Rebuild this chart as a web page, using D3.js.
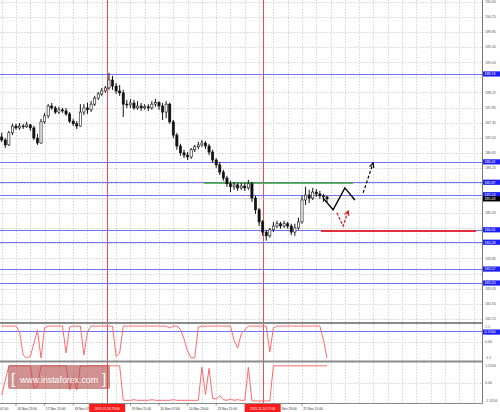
<!DOCTYPE html>
<html><head><meta charset="utf-8">
<script src="https://cdn.jsdelivr.net/npm/d3@7"></script>
<style>
html,body{margin:0;padding:0;background:#fff;}
svg{display:block;}
text{font-family:"Liberation Sans",Arial,sans-serif;}
</style></head><body>
<svg id="c" width="500" height="412"></svg>
<script>
// ---- data (2-hour bars) ----
const opens = [187.07,186.99,186.86,187.18,187.36,187.31,187.36,187.34,187.39,187.31,
187.04,186.91,187.47,187.63,187.89,187.84,187.73,187.79,187.76,187.68,
187.49,187.42,187.36,187.73,187.84,187.79,187.94,188.10,188.21,188.29,
188.37,188.58,188.42,188.29,188.24,187.94,187.92,187.97,187.84,187.89,
187.84,187.87,187.84,187.94,187.98,187.89,187.73,187.94,187.47,187.12,
186.83,186.65,186.59,186.54,186.73,186.81,186.86,186.91,186.83,186.67,
186.46,186.33,186.14,185.98,185.83,185.75,185.80,185.72,185.77,185.72,
185.83,185.45,185.14,184.82,184.55,184.45,184.61,184.71,184.77,184.71,
184.77,184.71,184.55,184.66,184.82,185.40,185.53,185.45,185.61,185.56,
185.51,185.48];
const highs = [187.18,187.04,187.23,187.42,187.42,187.44,187.42,187.47,187.42,187.36,
187.15,187.55,187.71,187.94,187.97,187.89,187.87,187.84,187.84,187.73,
187.55,187.49,187.94,187.94,187.98,188.02,188.16,188.26,188.37,188.42,
188.77,188.69,188.50,188.45,188.32,188.05,188.08,188.05,188.02,187.97,
187.94,187.94,188.02,188.08,188.02,187.97,188.02,187.98,187.52,187.18,
186.89,186.73,186.67,186.78,186.86,186.94,186.99,186.96,186.89,186.73,
186.51,186.41,186.20,186.04,185.91,185.88,185.85,185.85,185.85,185.93,
185.88,185.51,185.19,184.87,184.61,184.66,184.82,184.85,184.82,184.85,
184.82,184.77,184.77,184.93,185.53,185.75,185.67,185.72,185.69,185.64,
185.56,185.51];
const lows = [186.94,186.78,186.83,187.12,187.26,187.26,187.28,187.31,187.23,186.99,
186.86,186.89,187.42,187.57,187.79,187.68,187.68,187.71,187.63,187.44,
187.36,187.28,187.34,187.65,187.68,187.73,187.89,188.05,188.16,188.24,
188.32,188.32,188.21,188.16,187.60,187.84,187.84,187.79,187.79,187.76,
187.79,187.76,187.79,187.87,187.79,187.52,187.57,187.42,187.04,186.73,
186.57,186.51,186.46,186.49,186.67,186.75,186.81,186.75,186.59,186.38,
186.25,186.06,185.91,185.75,185.61,185.67,185.64,185.67,185.64,185.67,
185.35,185.03,184.71,184.45,184.32,184.40,184.55,184.66,184.64,184.66,
184.64,184.47,184.45,184.61,184.77,185.27,185.32,185.40,185.48,185.43,
185.35,185.35];
const closes = [186.99,186.86,187.18,187.36,187.31,187.36,187.34,187.39,187.31,187.04,
186.91,187.47,187.63,187.89,187.84,187.73,187.79,187.76,187.68,187.49,
187.42,187.36,187.73,187.84,187.79,187.94,188.10,188.21,188.29,188.37,
188.58,188.42,188.29,188.24,187.94,187.92,187.97,187.84,187.89,187.84,
187.87,187.84,187.94,187.98,187.89,187.73,187.94,187.47,187.12,186.83,
186.65,186.59,186.54,186.73,186.81,186.86,186.91,186.83,186.67,186.46,
186.33,186.14,185.98,185.83,185.75,185.80,185.72,185.77,185.72,185.83,
185.45,185.14,184.82,184.55,184.45,184.61,184.71,184.77,184.71,184.77,
184.71,184.55,184.66,184.82,185.40,185.53,185.45,185.61,185.56,185.51,
185.48,185.43];

const osc1 = [1,1,1,1,1,0.63,-0.82,-1,-0.9,-0.1,
0.75,-1,0.9,1,1,1,1,1,-0.69,0.94,
1,1,1,-0.82,0.63,1,1,1,1,1,
1,1,-0.9,-0.69,1,1,1,1,1,1,
1,1,1,1,1,1,1,0.88,1,1,
0.8,0.2,-0.6,-1,-1,0.94,1,1,1,1,
1,1,1,1,1,0.1,-0.38,0.5,0.75,1,
1,1,1,1,1,-0.63,0.88,1,1,1,
1,1,1,1,1,1,1,1,1,1,
0.13,-1];
const osc2 = [-0.95,0.2,1.3,1.3,1.3,1.3,1.3,1.3,1.3,-0.4,
-0.3,1.3,1.3,1.3,1.3,1.3,1.3,1.3,1.3,-0.55,
0.4,-0.55,1.3,1.3,1.3,1.3,1.3,1.3,1.3,1.3,
1.3,1.3,1.3,1.3,-1.35,-1.35,-1.35,-1.3,-1.35,-1.35,
-1.35,-1.35,-1.3,-1.35,-1.35,-1.35,-1.35,-1.35,-1.3,-1.35,
-1.35,-1.35,-1.35,-1.35,-1.35,-1.35,1.2,-0.9,1.1,-1.2,
-1.25,-1.0,-1.3,-1.35,-1.25,-1.35,-1.3,-1.35,-1.35,1.2,
-1.4,-1.4,-1.4,-1.4,-1.4,-1.4,1.3,1.3,1.3,1.3,
1.3,1.3,1.3,1.3,1.3,1.3,1.3,1.3,1.3,1.3,
1.3,1.3];

const priceTicks = [190.65,190.25,189.85,189.45,189.05,188.65,188.25,187.85,187.45,187.05,
186.65,186.25,185.85,185.45,185.05,184.65,184.25,183.85,183.45,183.05,182.65,182.25];
const blueLevels = [188.74,186.41,185.87,185.54,184.61,184.28,183.57,183.20];
const currentPrice = 185.43;
const timeTickIdx = [-4,4,12,20,60,36,44,52,76,84];
const timeLabels = ["16 Nov 07:00","16 Nov 23:00","17 Nov 15:00","18 Nov 07:00","23 Nov 15:00",
"19 Nov 15:00","20 Nov 07:00","20 Nov 23:00","24 Nov 23:00","25 Nov 15:00"];
const markerIdx = [29.5, 73];
const markerLabels = ["2015.11.18 23:00","2015.11.24 17:00"];
const osc1Ticks = [1.1, 0, -1.1];
const osc1TickLabels = ["1.1","0.00","-1.1"];
const osc1Level = 0.7;
const osc2Ticks = [1.5556, 0, -1.5556];
const osc2TickLabels = ["1.5556","0.00","-1.5556"];
const greenIdx = [56.6, 98.3], greenPrice = 185.85;
const redLevelIdx = [89.3, 132.7], redLevelPrice = 184.58;
const fcIdx = [89.9, 92.7, 96.0, 98.8], fcPrice = [185.45, 185.14, 185.72, 185.40];
const upIdx = [101.1, 103.9], upPrice = [185.59, 186.38];
const redArrIdx = [93.8, 95.5, 96.9], redArrPrice = [185.06, 184.71, 185.11];

// ---- layout ----
const plotR = 482, mainB = 323, p1T = 323, p1B = 361.5, p2B = 403;
const svg = d3.select('#c');
const x = d3.scaleLinear().domain([0, 134.35]).range([1.7, plotR]);
const y = d3.scaleLinear().domain([182.14, 190.70]).range([mainB, 0]);
const y1 = d3.scaleLinear().domain([-1.1, 1.1]).range([359.5, 324.5]);
const y2 = d3.scaleLinear().domain([-1.5556, 1.5556]).range([403, 362.5]);

const defs = svg.append('defs');
defs.append('clipPath').attr('id','cm').append('rect').attr('x',0).attr('y',0).attr('width',plotR).attr('height',mainB);
defs.append('clipPath').attr('id','c1').append('rect').attr('x',0).attr('y',p1T+1).attr('width',plotR).attr('height',p1B-p1T-2);
defs.append('clipPath').attr('id','c2').append('rect').attr('x',0).attr('y',p1B+1).attr('width',plotR).attr('height',p2B-p1B-1);
function marker(id,color){
  defs.append('marker').attr('id',id).attr('viewBox','0 0 8 8').attr('refX',7).attr('refY',4)
    .attr('markerWidth',5).attr('markerHeight',5).attr('orient','auto')
    .append('path').attr('d','M1,1 L7,4 L1,7').attr('fill','none').attr('stroke',color).attr('stroke-width',1.6);
}
marker('ab','#000'); marker('ar','#e01818');

const grid = svg.append('g').attr('stroke','#c9c9c9').attr('stroke-width',0.8).attr('stroke-dasharray','1.5,1.5');
d3.range(-4, 136, 4).forEach(i => {
  const gx = Math.round(x(i)) + 0.5;
  if (gx > 0 && gx < plotR) grid.append('line').attr('x1',gx).attr('x2',gx).attr('y1',0).attr('y2',p2B);
});
priceTicks.forEach(p => {
  const gy = Math.round(y(p)) + 0.5;
  grid.append('line').attr('x1',0).attr('x2',plotR).attr('y1',gy).attr('y2',gy);
});
[y1(0), y2(0)].forEach(v => {
  const gy = Math.round(v) + 0.5;
  grid.append('line').attr('x1',0).attr('x2',plotR).attr('y1',gy).attr('y2',gy);
});

// vertical red marker lines
markerIdx.forEach(i => {
  const gx = Math.round(x(i)) + 0.5;
  svg.append('line').attr('x1',gx).attr('x2',gx).attr('y1',0).attr('y2',p2B)
    .attr('stroke','#ee4a4a').attr('stroke-width',1);
});

const main = svg.append('g').attr('clip-path','url(#cm)');
blueLevels.forEach(p => {
  const gy = Math.round(y(p)) + 0.5;
  main.append('line').attr('x1',0).attr('x2',plotR).attr('y1',gy).attr('y2',gy)
    .attr('stroke','#7373f2').attr('stroke-width',1);
});
main.append('line').attr('x1',0).attr('x2',plotR).attr('y1',y(currentPrice)).attr('y2',y(currentPrice))
  .attr('stroke','#d8d8d8').attr('stroke-width',0.8);
main.append('line').attr('x1',x(greenIdx[0])).attr('x2',x(greenIdx[1])).attr('y1',y(greenPrice)).attr('y2',y(greenPrice))
  .attr('stroke','#3f9f3f').attr('stroke-width',1.4);
main.append('line').attr('x1',x(redLevelIdx[0])).attr('x2',x(redLevelIdx[1])).attr('y1',y(redLevelPrice)).attr('y2',y(redLevelPrice))
  .attr('stroke','#e0303c').attr('stroke-width',2);

// candles
const bars = main.append('g');
closes.forEach((c,i) => {
  const o = opens[i], cx = x(i);
  bars.append('line').attr('x1',cx).attr('x2',cx).attr('y1',y(highs[i])).attr('y2',y(lows[i]))
    .attr('stroke','#111').attr('stroke-width',1);
  const top = y(Math.max(o,c)), bot = y(Math.min(o,c));
  bars.append('rect').attr('x',cx-1.1).attr('width',2.2).attr('y',top).attr('height',Math.max(0.8,bot-top))
    .attr('fill', c >= o ? '#fff' : '#111').attr('stroke','#111').attr('stroke-width',0.6);
});

// forecast annotations
const line = d3.line().x(d => x(d[0])).y(d => y(d[1]));
main.append('path').attr('d', line(fcIdx.map((v,k)=>[v,fcPrice[k]])))
  .attr('fill','none').attr('stroke','#000').attr('stroke-width',1.4);
main.append('path').attr('d', line(upIdx.map((v,k)=>[v,upPrice[k]])))
  .attr('fill','none').attr('stroke','#000').attr('stroke-width',1.2).attr('stroke-dasharray','3,2')
  .attr('marker-end','url(#ab)');
main.append('path').attr('d', line(redArrIdx.map((v,k)=>[v,redArrPrice[k]])))
  .attr('fill','none').attr('stroke','#e01818').attr('stroke-width',1.2).attr('stroke-dasharray','3,1.5')
  .attr('marker-end','url(#ar)');

// indicator 1
const g1 = svg.append('g').attr('clip-path','url(#c1)');
g1.append('line').attr('x1',0).attr('x2',plotR).attr('y1',Math.round(y1(osc1Level))+0.5).attr('y2',Math.round(y1(osc1Level))+0.5)
  .attr('stroke','#7373f2').attr('stroke-width',1);
g1.append('path').attr('d', d3.line().x((d,i)=>x(i)).y(d=>y1(d))(osc1))
  .attr('fill','none').attr('stroke','#ff6a6a').attr('stroke-width',1);
// indicator 2
const g2 = svg.append('g').attr('clip-path','url(#c2)');
g2.append('path').attr('d', d3.line().x((d,i)=>x(i)).y(d=>y2(d))(osc2))
  .attr('fill','none').attr('stroke','#ff6a6a').attr('stroke-width',1);

// separators & axes
[p1T, p1B].forEach(v => svg.append('line').attr('x1',0).attr('x2',plotR).attr('y1',v).attr('y2',v)
  .attr('stroke','#8a8a8a').attr('stroke-width',2));
svg.append('line').attr('x1',0).attr('x2',plotR).attr('y1',p2B+0.5).attr('y2',p2B+0.5).attr('stroke','#8a8a8a').attr('stroke-width',1);
svg.append('line').attr('x1',plotR+0.5).attr('x2',plotR+0.5).attr('y1',0).attr('y2',p2B+0.5).attr('stroke','#777').attr('stroke-width',1);

const fs = 3.6;
const boxYs = blueLevels.map(p => y(p)).concat([y(currentPrice)]);
const axisG = svg.append('g').attr('font-size',fs).attr('fill','#555');
priceTicks.forEach(p => {
  const yy = y(p);
  if (boxYs.some(b => Math.abs(b - yy) < 5.4)) return; // hidden under a level box
  axisG.append('text').attr('x',plotR+3).attr('y',yy).attr('dy','0.35em').text(p.toFixed(2));
});
osc1Ticks.forEach((v,k) => {
  const yy = Math.max(326.3, Math.min(357.5, y1(v)));
  axisG.append('text').attr('x',plotR+3).attr('y',yy).attr('dy','0.35em').text(osc1TickLabels[k]);
});
osc2Ticks.forEach((v,k) => {
  const yy = Math.max(365.5, Math.min(400.5, y2(v)));
  axisG.append('text').attr('x',plotR+3).attr('y',yy).attr('dy','0.35em').text(osc2TickLabels[k]);
});
function box(yy, txt, color){
  svg.append('rect').attr('x',plotR+1).attr('y',yy-2.6).attr('width',17).attr('height',5.2).attr('fill',color);
  svg.append('text').attr('x',plotR+2.5).attr('y',yy).attr('dy','0.35em').attr('font-size',fs).attr('fill','#fff').text(txt);
}
blueLevels.forEach(p => box(y(p), p.toFixed(2), '#1d1df5'));
box(y(currentPrice), currentPrice.toFixed(2), '#000');
box(y1(osc1Level) + 1.2, osc1Level.toFixed(4), '#1d1df5');

// time axis
const tg = svg.append('g').attr('font-size',3.3).attr('fill','#333');
timeTickIdx.forEach((i,k) => {
  const tx = x(i);
  svg.append('line').attr('x1',tx).attr('x2',tx).attr('y1',p2B).attr('y2',p2B+3).attr('stroke','#666').attr('stroke-width',0.6);
  let lx = tx + 1.2;
  const mx = x(markerIdx[1]) + 18.5;
  const txt = timeLabels[k];
  if (lx < mx && lx > x(markerIdx[1])) {
    // partially covered by the marker box: only the visible part shows
    tg.append('text').attr('x',mx + 0.5).attr('y',409.5).text(txt.slice(3));
  } else {
    tg.append('text').attr('x',lx).attr('y',409.5).text(txt);
  }
});
markerIdx.forEach((i,k) => {
  const tx = x(i);
  svg.append('rect').attr('x',tx-18).attr('y',p2B+1).attr('width',36).attr('height',8).attr('fill','#ff1a1a');
  svg.append('text').attr('x',tx).attr('y',409.5).attr('text-anchor','middle').attr('font-size',3.3).attr('fill','#fff').text(markerLabels[k]);
});

// watermark
const wm = svg.append('g');
wm.append('rect').attr('x',8).attr('y',365).attr('width',102).attr('height',24).attr('rx',2)
  .attr('fill','#b04848').attr('opacity',0.6);
wm.append('text').attr('x',11).attr('y',384).attr('font-size',15).attr('fill','#fff').text('[');
wm.append('text').attr('x',102).attr('y',384).attr('font-size',15).attr('fill','#fff').text(']');
wm.append('text').attr('x',59).attr('y',382.5).attr('text-anchor','middle').attr('font-size',9)
  .attr('textLength',78).attr('lengthAdjust','spacingAndGlyphs').attr('fill','#fff').text('www.instaforex.com');
</script>
</body></html>
